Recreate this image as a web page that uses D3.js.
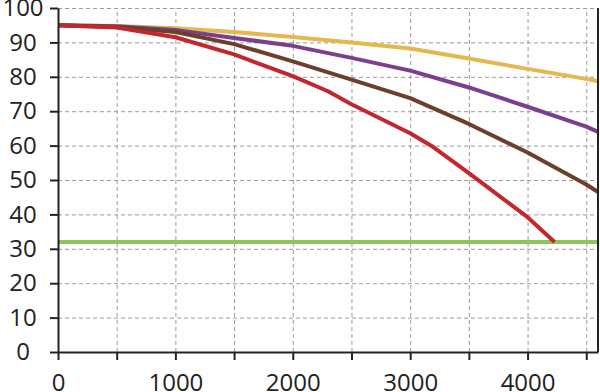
<!DOCTYPE html>
<html>
<head>
<meta charset="UTF-8">
<script src="https://cdn.jsdelivr.net/npm/d3@7"></script>
<style>
  body { margin: 0; background: #fff; }
  .grid line { stroke: #9a9a9a; stroke-width: 1; stroke-dasharray: 4,3; }
  .grid .domain { display: none; }
  .axis text { font-family: "Open Sans", sans-serif; font-size: 24px; fill: #222; }
  .axis line, .axis path { stroke: #222; stroke-width: 2; }
  .series { fill: none; stroke-width: 4; stroke-linejoin: round; }
</style>
</head>
<body>
<div id="chart"></div>
<script>
// x positions of the data points
const xs = [0, 500, 1000, 1500, 2000, 2500, 3000, 3500, 4000, 4500, 4600];

// series values
const yellow = [95, 94.8, 94.1, 93, 91.6, 90, 88.2, 85.3, 82.3, 79.4, 78.7];
const purple = [95, 94.7, 93.6, 91.3, 89, 85.5, 81.8, 76.9, 71.3, 65.5, 64];
const brown  = [95, 94.5, 93, 89.5, 84.5, 79.2, 73.8, 66.3, 58, 48.7, 46.5];
const redX   = [0, 500, 1000, 1500, 2000, 2300, 2500, 3000, 3200, 3500, 4000, 4230];
const red    = [95, 94.3, 91.5, 86.5, 80.2, 75.8, 72, 63.6, 59.5, 52, 39.2, 32];
const greenX = [0, 4600];
const green  = [32, 32];

const xTicks = [0, 500, 1000, 1500, 2000, 2500, 3000, 3500, 4000, 4500];
const xLabels = [0, 1000, 2000, 3000, 4000];
const yTicks = [0, 10, 20, 30, 40, 50, 60, 70, 80, 90, 100];

const margin = {top: 8, right: 2, bottom: 40, left: 58},
    width = 600 - margin.left - margin.right,
    height = 392 - margin.top - margin.bottom;

const x = d3.scaleLinear().domain([0, 4600]).range([0, width]);
const y = d3.scaleLinear().domain([0, 100]).range([height, 0]);

const svg = d3.select("#chart").append("svg")
    .attr("width", 600)
    .attr("height", 392)
  .append("g")
    .attr("transform", "translate(" + margin.left + "," + margin.top + ")");

// dashed grid
svg.append("g")
    .attr("class", "grid")
    .call(d3.axisLeft(y).tickValues(yTicks.slice(1)).tickSize(-width).tickFormat(""));
svg.append("g")
    .attr("class", "grid")
    .attr("transform", "translate(0," + height + ")")
    .call(d3.axisBottom(x).tickValues(xTicks.slice(1)).tickSize(-height).tickFormat(""));

const line = d3.line()
    .x(function(d) { return x(d[0]); })
    .y(function(d) { return y(d[1]); });

const series = [
  {xs: greenX, ys: green, color: "#8fc45a"},
  {xs: xs, ys: yellow, color: "#e2b84f"},
  {xs: xs, ys: purple, color: "#7b3f8d"},
  {xs: xs, ys: brown, color: "#6d3f2b"},
  {xs: redX, ys: red, color: "#c1272d"}
];

series.forEach(function(s) {
  svg.append("path")
      .attr("class", "series")
      .attr("stroke", s.color)
      .attr("d", line(s.xs.map(function(v, i) { return [v, s.ys[i]]; })));
});

// axes
// y labels are centred in the left margin
svg.append("g")
    .attr("class", "axis")
    .call(d3.axisLeft(y).tickValues(yTicks).tickSize(8).tickSizeOuter(0))
    .selectAll("text")
      .attr("x", -35)
      .style("text-anchor", "middle");

svg.append("g")
    .attr("class", "axis")
    .attr("transform", "translate(0," + height + ")")
    .call(d3.axisBottom(x).tickValues(xTicks).tickSize(8).tickPadding(14).tickSizeOuter(0)
      .tickFormat(function(d) { return xLabels.indexOf(d) >= 0 ? d : ""; }));

// right frame line
svg.append("line")
    .attr("x1", width).attr("x2", width)
    .attr("y1", 0).attr("y2", height)
    .attr("stroke", "#222").attr("stroke-width", 2);
</script>
</body>
</html>
